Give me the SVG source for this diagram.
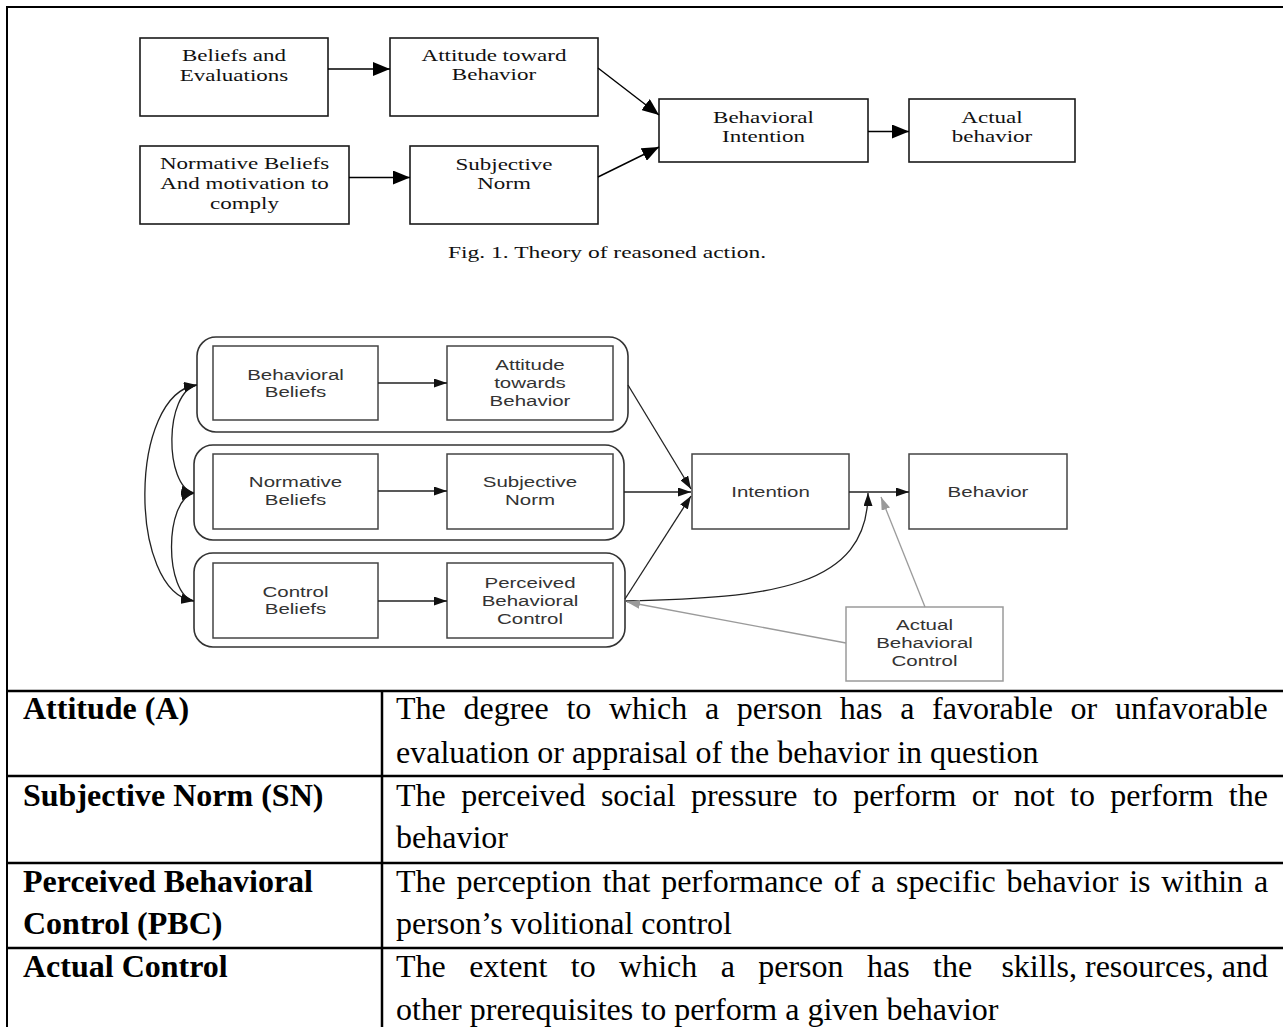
<svg xmlns="http://www.w3.org/2000/svg" width="1283" height="1027" viewBox="0 0 1283 1027">
  <defs>
    <style>
      .frame{fill:none;stroke:#000;stroke-width:2}
      .rule{stroke:#000;stroke-width:2.5}
      .b1{fill:#fff;stroke:#1a1a1a;stroke-width:1.6}
      .t1{font-family:"Liberation Serif","Times New Roman",serif;font-size:16.8px;fill:#111;text-anchor:middle}
      .grp{fill:none;stroke:#333;stroke-width:1.6}
      .b2{fill:#fff;stroke:#444;stroke-width:1.5}
      .b2g{fill:#fff;stroke:#9a9a9a;stroke-width:1.5}
      .t2{font-family:"Liberation Sans",Arial,sans-serif;font-size:15.4px;fill:#333;text-anchor:middle}
      .c1{fill:none;stroke:#000;stroke-width:1.4}
      .c2{fill:none;stroke:#222;stroke-width:1.3}
      .c2g{fill:none;stroke:#9a9a9a;stroke-width:1.3}
      .lab{font-family:"Liberation Serif","Times New Roman",serif;font-size:32px;font-weight:bold;fill:#000}
      .def{font-family:"Liberation Serif","Times New Roman",serif;font-size:32px;fill:#000}
    </style>
    <marker id="ahBig" markerUnits="userSpaceOnUse" markerWidth="18" markerHeight="14" refX="17" refY="7" orient="auto">
      <path d="M0,0 L17,7 L0,14 z" fill="#000"/>
    </marker>
    <marker id="ah" markerUnits="userSpaceOnUse" markerWidth="14" markerHeight="9" refX="13" refY="4.5" orient="auto-start-reverse">
      <path d="M0,0 L13,4.5 L0,9 z" fill="#111"/>
    </marker>
    <marker id="ahGray" markerUnits="userSpaceOnUse" markerWidth="14" markerHeight="9" refX="13" refY="4.5" orient="auto">
      <path d="M0,0 L13,4.5 L0,9 z" fill="#9a9a9a"/>
    </marker>
  </defs>

  <rect x="0" y="0" width="1283" height="1027" fill="#fff"/>

  <!-- page frame and definition table rules -->
  <g id="frame">
    <rect class="frame" x="7" y="7" width="1290" height="1040"/>
    <line class="rule" x1="7" y1="691" x2="1283" y2="691"/>
    <line class="rule" x1="7" y1="776" x2="1283" y2="776"/>
    <line class="rule" x1="7" y1="863" x2="1283" y2="863"/>
    <line class="rule" x1="7" y1="948" x2="1283" y2="948"/>
    <line class="rule" x1="382" y1="691" x2="382" y2="1027"/>
  </g>

  <!-- Theory of reasoned action -->
  <g id="tra-beliefs">
    <rect class="b1" x="140" y="38" width="188" height="78"/>
    <text class="t1" transform="translate(234,61) scale(1.37,1)"><tspan x="0">Beliefs and</tspan><tspan x="0" dy="20">Evaluations</tspan></text>
  </g>
  <g id="tra-attitude">
    <rect class="b1" x="390" y="38" width="208" height="78"/>
    <text class="t1" transform="translate(494,60.5) scale(1.37,1)"><tspan x="0">Attitude toward</tspan><tspan x="0" dy="19.5">Behavior</tspan></text>
  </g>
  <g id="tra-normative">
    <rect class="b1" x="140" y="146" width="209" height="78"/>
    <text class="t1" transform="translate(244.5,169) scale(1.37,1)"><tspan x="0">Normative Beliefs</tspan><tspan x="0" dy="20">And motivation to</tspan><tspan x="0" dy="20">comply</tspan></text>
  </g>
  <g id="tra-subjective">
    <rect class="b1" x="410" y="146" width="188" height="78"/>
    <text class="t1" transform="translate(504,170) scale(1.37,1)"><tspan x="0">Subjective</tspan><tspan x="0" dy="19.5">Norm</tspan></text>
  </g>
  <g id="tra-intention">
    <rect class="b1" x="659" y="99" width="209" height="63"/>
    <text class="t1" transform="translate(763.5,122.5) scale(1.37,1)"><tspan x="0">Behavioral</tspan><tspan x="0" dy="20">Intention</tspan></text>
  </g>
  <g id="tra-behavior">
    <rect class="b1" x="909" y="99" width="166" height="63"/>
    <text class="t1" transform="translate(992,122.5) scale(1.37,1)"><tspan x="0">Actual</tspan><tspan x="0" dy="20">behavior</tspan></text>
  </g>
  <g id="tra-caption">
    <text class="t1" transform="translate(607,258) scale(1.4,1)">Fig. 1.  Theory of reasoned action.</text>
  </g>

  <g id="tra-connectors">
    <line class="c1" x1="328" y1="69" x2="390" y2="69" marker-end="url(#ahBig)"/>
    <line class="c1" x1="349" y1="177.5" x2="410" y2="177.5" marker-end="url(#ahBig)"/>
    <line class="c1" x1="598" y1="68" x2="659" y2="115" marker-end="url(#ahBig)"/>
    <line class="c1" x1="598" y1="177" x2="659" y2="147" marker-end="url(#ahBig)"/>
    <line class="c1" x1="868" y1="131.5" x2="909" y2="131.5" marker-end="url(#ahBig)"/>
  </g>

  <!-- Theory of planned behavior -->
  <g id="tpb-row-attitude">
    <rect class="grp" x="197" y="337" width="431" height="95" rx="19"/>
  </g>
  <g id="tpb-row-norm">
    <rect class="grp" x="194" y="445" width="430" height="95" rx="19"/>
  </g>
  <g id="tpb-row-control">
    <rect class="grp" x="194" y="553" width="431" height="94" rx="19"/>
  </g>

  <g id="tpb-behavioral-beliefs">
    <rect class="b2" x="213" y="346" width="165" height="74"/>
    <text class="t2" transform="translate(295.5,379.5) scale(1.33,1)"><tspan x="0">Behavioral</tspan><tspan x="0" dy="17.5">Beliefs</tspan></text>
  </g>
  <g id="tpb-attitude">
    <rect class="b2" x="447" y="346" width="166" height="74"/>
    <text class="t2" transform="translate(530,370) scale(1.33,1)"><tspan x="0">Attitude</tspan><tspan x="0" dy="18">towards</tspan><tspan x="0" dy="18">Behavior</tspan></text>
  </g>
  <g id="tpb-normative-beliefs">
    <rect class="b2" x="213" y="454" width="165" height="75"/>
    <text class="t2" transform="translate(295.5,487) scale(1.33,1)"><tspan x="0">Normative</tspan><tspan x="0" dy="18">Beliefs</tspan></text>
  </g>
  <g id="tpb-subjective-norm">
    <rect class="b2" x="447" y="454" width="166" height="75"/>
    <text class="t2" transform="translate(530,487) scale(1.33,1)"><tspan x="0">Subjective</tspan><tspan x="0" dy="18">Norm</tspan></text>
  </g>
  <g id="tpb-control-beliefs">
    <rect class="b2" x="213" y="563" width="165" height="75"/>
    <text class="t2" transform="translate(295.5,597) scale(1.33,1)"><tspan x="0">Control</tspan><tspan x="0" dy="17.5">Beliefs</tspan></text>
  </g>
  <g id="tpb-pbc">
    <rect class="b2" x="447" y="563" width="166" height="75"/>
    <text class="t2" transform="translate(530,588) scale(1.33,1)"><tspan x="0">Perceived</tspan><tspan x="0" dy="18">Behavioral</tspan><tspan x="0" dy="18">Control</tspan></text>
  </g>
  <g id="tpb-intention">
    <rect class="b2" x="692" y="454" width="157" height="75"/>
    <text class="t2" transform="translate(770.5,497) scale(1.33,1)">Intention</text>
  </g>
  <g id="tpb-behavior">
    <rect class="b2" x="909" y="454" width="158" height="75"/>
    <text class="t2" transform="translate(988,497) scale(1.33,1)">Behavior</text>
  </g>
  <g id="tpb-actual-control">
    <rect class="b2g" x="846" y="607" width="157" height="74"/>
    <text class="t2" transform="translate(924.5,630) scale(1.33,1)"><tspan x="0">Actual</tspan><tspan x="0" dy="18">Behavioral</tspan><tspan x="0" dy="18">Control</tspan></text>
  </g>

  <g id="tpb-connectors">
    <line class="c2" x1="378" y1="383" x2="447" y2="383" marker-end="url(#ah)"/>
    <line class="c2" x1="378" y1="491" x2="447" y2="491" marker-end="url(#ah)"/>
    <line class="c2" x1="378" y1="601" x2="447" y2="601" marker-end="url(#ah)"/>
    <line class="c2" x1="628" y1="385" x2="691" y2="489" marker-end="url(#ah)"/>
    <line class="c2" x1="624" y1="492" x2="691" y2="492" marker-end="url(#ah)"/>
    <line class="c2" x1="625" y1="599" x2="691" y2="496" marker-end="url(#ah)"/>
    <line class="c2" x1="849" y1="492" x2="909" y2="492" marker-end="url(#ah)"/>
    <path class="c2" d="M626,601 C770,598 868,588 868,493" marker-end="url(#ah)"/>
    <line class="c2g" x1="925" y1="607" x2="881" y2="497" marker-end="url(#ahGray)"/>
    <line class="c2g" x1="846" y1="643" x2="627" y2="602" marker-end="url(#ahGray)"/>
    <path class="c2" d="M197,385 C164,392 164,486 194,493" marker-start="url(#ah)" marker-end="url(#ah)"/>
    <path class="c2" d="M194,493 C164,500 164,594 194,601" marker-start="url(#ah)" marker-end="url(#ah)"/>
    <path class="c2" d="M197,385 C128,393 128,593 194,601" marker-start="url(#ah)" marker-end="url(#ah)"/>
  </g>

  <!-- definitions table -->
  <g id="row-attitude">
    <text class="lab" x="23" y="719">Attitude (A)</text>
    <text class="def" x="396" y="719" word-spacing="9.7">The degree to which a person has a favorable or unfavorable</text>
    <text class="def" x="396" y="763">evaluation or appraisal of the behavior in question</text>
  </g>
  <g id="row-norm">
    <text class="lab" x="23" y="806">Subjective Norm (SN)</text>
    <text class="def" x="396" y="806" word-spacing="7.4">The perceived social pressure to perform or not to perform the</text>
    <text class="def" x="396" y="848">behavior</text>
  </g>
  <g id="row-pbc">
    <text class="lab" x="23" y="892">Perceived Behavioral</text>
    <text class="lab" x="23" y="934">Control (PBC)</text>
    <text class="def" x="396" y="892" word-spacing="2.8">The perception that performance of a specific behavior is within a</text>
    <text class="def" x="396" y="934">person’s volitional control</text>
  </g>
  <g id="row-actual">
    <text class="lab" x="23" y="977">Actual Control</text>
    <text class="def" x="396" y="977" word-spacing="15.4">The extent to which a person has the</text>
    <text class="def" x="1268" y="977" text-anchor="end">skills, resources, and</text>
    <text class="def" x="396" y="1020">other prerequisites to perform a given behavior</text>
  </g>
</svg>
